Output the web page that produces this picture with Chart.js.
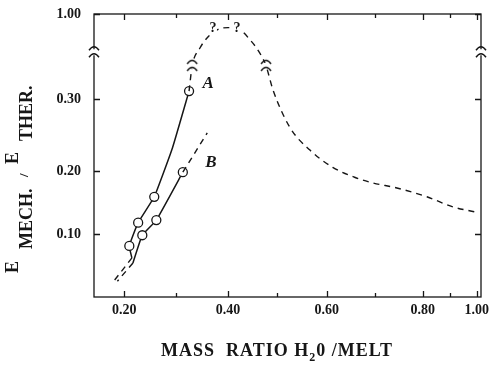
<!DOCTYPE html>
<html>
<head>
<meta charset="utf-8">
<script src="https://cdn.jsdelivr.net/npm/chart.js@4.4.1/dist/chart.umd.min.js"></script>
<style>
  html, body { margin: 0; padding: 0; background: #fff; }
  canvas { display: block; }
</style>
</head>
<body>
<canvas id="chart" width="489" height="366"></canvas>
<script>
'use strict'

//Axis ticks (real values) and where they sit on the broken axes
const xTickVals = [0.2, 0.4, 0.6, 0.8, 1.0]
const xTickLabels = ['0.20', '0.40', '0.60', '0.80', '1.00']
const xTickPos = [0.2, 0.4, 0.59, 0.775, 0.879]
const xMinorVals = [0.3, 0.5, 0.7, 0.9]

const yKnotVals = [0, 0.1, 0.2, 0.3, 0.34, 1.0]
const yKnotPos = [0, 0.1, 0.2, 0.314, 0.36, 0.449]
const yTickVals = [0.1, 0.2, 0.3, 1.0]
const yTickLabels = ['0.10', '0.20', '0.30', '1.00']
const yAxisBreak = 0.55

//Curve A (solid, open circles)
const aX = [0.215, 0.21, 0.227, 0.258, 0.293, 0.325]
const aY = [0.062, 0.081, 0.118, 0.159, 0.232, 0.311]
const aDots = [0, 1, 1, 1, 0, 1]

//Curve B
const bX = [0.217, 0.235, 0.262, 0.313]
const bY = [0.054, 0.098, 0.122, 0.198]
const bDots = [0, 1, 1, 1]
const bExtX = [0.313, 0.36]
const bExtY = [0.198, 0.253]

//dashed tails at the low end
const aLowX = [0.215, 0.177]
const aLowY = [0.062, 0.022]
const bLowX = [0.217, 0.187]
const bLowY = [0.054, 0.025]

//dashed curve above A, through the break and down to 1.00
const extX = [0.325, 0.331, 0.346, 0.36, 0.381, 0.40, 0.424, 0.444, 0.46, 0.477, 0.491, 0.525, 0.566, 0.6125, 0.658, 0.696, 0.746, 0.815, 0.911, 0.993]
const extY = [0.311, 0.39, 0.60, 0.72, 0.82, 0.84, 0.815, 0.70, 0.58, 0.39, 0.313, 0.261, 0.229, 0.205, 0.19, 0.181, 0.173, 0.159, 0.143, 0.135]
const extBreaks = [1, 9]

const questionX = [0.371, 0.418]
const questionY = 0.83
const curveLabels = [{ text: 'A', x: 0.362, y: 0.321 }, { text: 'B', x: 0.367, y: 0.211 }]

const serif = '"Liberation Serif", "DejaVu Serif", serif'
const ink = '#161616'

function interp(v, from, to) {
    let i = 1
    while (i < from.length - 1 && v > from[i]) i++
    let t = (v - from[i - 1]) / (from[i] - from[i - 1])
    return to[i - 1] + t * (to[i] - to[i - 1])
}
let mapX = v => interp(v, xTickVals, xTickPos)
let mapY = v => interp(v, yKnotVals, yKnotPos)
let pts = (xs, ys) => xs.map((x, i) => ({ x: mapX(x), y: mapY(ys[i]) }))

function breakGlyph(c, x, y) {
    c.save()
    c.fillStyle = '#fff'
    c.fillRect(x - 6, y - 3, 12, 6)
    c.strokeStyle = ink
    c.lineWidth = 1.4
    c.beginPath()
    c.moveTo(x - 5, y - 2)
    c.quadraticCurveTo(x, y - 9, x + 5, y - 2)
    c.moveTo(x - 5, y + 5)
    c.quadraticCurveTo(x, y - 2, x + 5, y + 5)
    c.stroke()
    c.restore()
}

let breakCanvas = document.createElement('canvas')
breakCanvas.width = 14
breakCanvas.height = 16
breakGlyph(breakCanvas.getContext('2d'), 7, 8)

const decor = {
    id: 'decor',
    afterDatasetsDraw(chart) {
        let c = chart.ctx
        let a = chart.chartArea
        let xs = chart.scales.x
        let ys = chart.scales.y
        c.save()
        c.strokeStyle = ink
        c.lineWidth = 1.3
        c.strokeRect(a.left, a.top, a.right - a.left, a.bottom - a.top)

        //inward ticks
        c.beginPath()
        xTickVals.concat(xMinorVals).forEach((v, i) => {
            let px = Math.round(xs.getPixelForValue(mapX(v))) + 0.5
            let len = i < xTickVals.length ? 6 : 4
            c.moveTo(px, a.bottom); c.lineTo(px, a.bottom - len)
            c.moveTo(px, a.top); c.lineTo(px, a.top + len)
        })
        yTickVals.forEach(v => {
            let py = Math.round(ys.getPixelForValue(mapY(v))) + 0.5
            c.moveTo(a.left, py); c.lineTo(a.left + 6, py)
            c.moveTo(a.right, py); c.lineTo(a.right - 6, py)
        })
        c.stroke()

        let by = ys.getPixelForValue(mapY(yAxisBreak))
        breakGlyph(c, a.left, by)
        breakGlyph(c, a.right, by)

        //question marks at the peak
        c.font = 'bold 14px ' + serif
        c.textAlign = 'center'
        c.textBaseline = 'middle'
        questionX.forEach(v => {
            let px = xs.getPixelForValue(mapX(v))
            let py = ys.getPixelForValue(mapY(questionY))
            c.fillStyle = '#fff'
            c.fillRect(px - 4, py - 7, 8, 14)
            c.fillStyle = ink
            c.fillText('?', px, py)
        })

        c.font = 'italic bold 17px ' + serif
        curveLabels.forEach(l => {
            c.fillText(l.text, xs.getPixelForValue(mapX(l.x)), ys.getPixelForValue(mapY(l.y)))
        })

        //x title with subscript
        c.textAlign = 'left'
        c.textBaseline = 'alphabetic'
        c.letterSpacing = '1px'
        let big = 'bold 18px ' + serif
        let small = 'bold 12px ' + serif
        c.font = big
        let w1 = c.measureText('MASS  RATIO H').width
        let w3 = c.measureText('0 /MELT').width
        c.font = small
        let w2 = c.measureText('2').width
        let x0 = 277 - (w1 + w2 + w3) / 2
        c.font = big
        c.fillText('MASS  RATIO H', x0, 356)
        c.font = small
        c.fillText('2', x0 + w1, 361)
        c.font = big
        c.fillText('0 /MELT', x0 + w1 + w2, 356)

        //y title, rotated, with subscripts
        c.letterSpacing = '0px'
        c.rotate(-Math.PI / 2)
        c.font = big
        c.fillText('E', -273, 18)
        c.fillText('MECH.', -249, 32)
        c.font = 'bold 13px ' + serif
        c.fillText('/', -177, 28)
        c.font = big
        c.fillText('E', -164, 18)
        c.fillText('THER.', -141, 32)
        c.restore()
    }
}

let ctx = document.getElementById('chart').getContext('2d')

let solid = (data, dots) => ({
    data: data,
    borderColor: ink,
    borderWidth: 1.5,
    tension: 0.12,
    pointRadius: dots.map(d => d ? 4.5 : 0),
    pointBackgroundColor: '#fff',
    pointBorderColor: ink,
    pointBorderWidth: 1.3
})
let dashed = data => ({
    data: data,
    borderColor: ink,
    borderWidth: 1.4,
    borderDash: [6, 5],
    pointRadius: 0,
    tension: 0
})

var ratioChart = new Chart(ctx, {
    type: 'line',
    data: {
        datasets: [
            dashed(pts(aLowX, aLowY)),
            dashed(pts(bLowX, bLowY)),
            dashed(pts(bExtX, bExtY)),
            {
                data: pts(extX, extY),
                borderColor: ink,
                borderWidth: 1.4,
                borderDash: [6, 5],
                cubicInterpolationMode: 'monotone',
                pointRadius: c => extBreaks.includes(c.dataIndex) ? 6 : 0,
                pointStyle: c => extBreaks.includes(c.dataIndex) ? breakCanvas : 'circle'
            },
            solid(pts(aX, aY), aDots),
            solid(pts(bX, bY), bDots)
        ]
    },
    options: {
        responsive: false,
        animation: false,
        layout: { padding: { top: 14, right: 8, left: 0, bottom: 0 } },
        plugins: { legend: { display: false }, tooltip: { enabled: false } },
        scales: {
            x: {
                type: 'linear',
                min: 0.142,
                max: 0.887,
                grid: { display: false, drawTicks: false },
                border: { display: false },
                afterBuildTicks: s => { s.ticks = xTickPos.map(v => ({ value: v })) },
                afterFit: s => { s.height = 69; s.paddingLeft = 0; s.paddingRight = 0 },
                ticks: {
                    autoSkip: false,
                    maxRotation: 0,
                    padding: 5,
                    color: ink,
                    font: { family: serif, size: 14, weight: 'bold' },
                    callback: (v, i) => xTickLabels[i]
                }
            },
            y: {
                type: 'linear',
                min: 0,
                max: 0.449,
                grid: { display: false, drawTicks: false },
                border: { display: false },
                afterBuildTicks: s => { s.ticks = yTickVals.map(v => ({ value: mapY(v) })) },
                afterFit: s => { s.width = 94; s.paddingTop = 0; s.paddingBottom = 0 },
                ticks: {
                    autoSkip: false,
                    padding: 13,
                    color: ink,
                    font: { family: serif, size: 14, weight: 'bold' },
                    callback: (v, i) => yTickLabels[i]
                }
            }
        }
    },
    plugins: [decor]
})
</script>
</body>
</html>
